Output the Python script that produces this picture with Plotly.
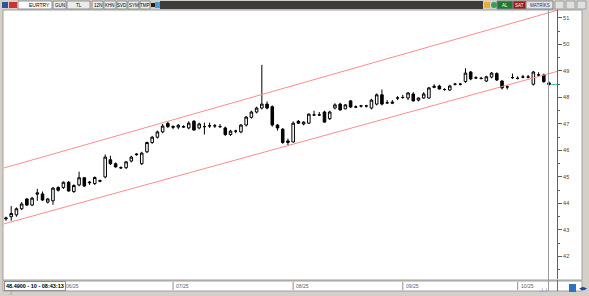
import plotly.graph_objects as go
import pandas as pd

# ---------------- data ----------------
start_date = "2025-05-16"
opens = [43.42,43.50,43.57,43.80,44.17,43.94,44.35,44.36,44.05,44.10,44.60,44.60,44.80,44.45,44.70,44.97,44.78,44.75,44.84,45.00,
         45.65,45.50,45.34,45.35,45.60,45.84,45.50,45.95,46.30,46.50,46.70,47.02,46.90,46.88,46.88,46.85,47.10,46.85,46.90,46.93,
         46.93,46.90,46.85,46.60,46.73,46.70,46.96,47.25,47.45,47.60,47.75,47.65,46.96,46.80,46.30,46.32,47.10,47.00,47.03,47.34,
         47.34,47.45,47.20,47.60,47.75,47.57,47.87,47.64,47.68,47.68,47.60,47.75,48.10,47.80,47.78,47.98,48.00,47.98,48.13,47.90,
         47.98,47.98,48.38,48.43,48.30,48.28,48.50,48.50,48.60,48.96,48.74,48.72,48.62,48.77,48.90,48.62,48.40,48.75,48.72,48.77,
         48.77,48.50,48.85,48.85,48.55]
closes = [43.45,43.62,43.80,43.98,43.94,44.20,44.40,44.13,44.17,44.58,44.50,44.80,44.47,44.68,44.97,44.66,44.80,44.98,44.86,45.75,
          45.50,45.38,45.35,45.57,45.75,45.86,45.90,46.30,46.50,46.70,46.92,46.90,46.88,46.95,46.90,47.03,46.77,47.00,46.90,46.93,
          46.93,46.90,46.60,46.73,46.73,46.96,47.26,47.45,47.60,47.75,47.60,46.96,46.85,46.30,46.36,47.03,47.03,47.07,47.37,47.34,
          47.34,47.07,47.45,47.72,47.53,47.72,47.64,47.64,47.68,47.68,47.90,48.10,47.75,47.80,47.82,47.98,48.00,48.17,47.87,47.98,
          48.13,48.36,48.42,48.32,48.30,48.43,48.50,48.50,48.92,48.70,48.74,48.72,48.78,48.92,48.66,48.36,48.40,48.75,48.72,48.77,
          48.77,48.96,48.85,48.60,48.49]
highs = [43.50,43.90,43.85,44.05,44.20,44.25,44.55,44.45,44.20,44.62,44.65,44.83,44.85,44.72,45.20,45.00,44.85,45.02,44.90,45.85,
         45.80,45.55,45.40,45.60,45.80,45.90,45.95,46.33,46.55,46.75,47.00,47.10,46.95,47.00,46.95,47.10,47.15,47.05,47.05,47.05,
         47.00,47.00,46.90,46.78,46.78,47.00,47.30,47.50,47.65,49.23,47.85,47.70,47.00,46.85,46.45,47.10,47.15,47.10,47.40,47.50,
         47.45,47.50,47.50,47.78,47.80,47.75,47.90,47.70,47.72,47.72,47.95,48.15,48.30,47.90,47.90,48.05,48.10,48.20,48.20,48.00,
         48.20,48.40,48.50,48.48,48.35,48.48,48.55,48.55,49.10,49.00,48.80,48.78,48.82,48.96,48.95,48.65,48.45,48.90,48.80,48.85,
         48.85,49.00,48.95,48.90,48.60]
lows = [43.35,43.35,43.50,43.75,43.90,43.90,44.10,44.10,44.00,43.95,44.45,44.55,44.45,44.40,44.65,44.62,44.70,44.70,44.80,44.95,
        45.45,45.35,45.30,45.30,45.55,45.80,45.45,45.90,46.25,46.45,46.65,46.85,46.80,46.80,46.85,46.80,46.75,46.80,46.60,46.85,
        46.85,46.85,46.55,46.55,46.65,46.65,46.90,47.20,47.40,47.55,47.55,46.90,46.75,46.25,46.20,46.30,47.00,46.95,47.00,47.30,
        47.30,47.05,47.15,47.55,47.50,47.55,47.60,47.60,47.62,47.62,47.55,47.70,47.70,47.75,47.75,47.90,47.95,47.90,47.85,47.85,
        47.95,47.95,48.35,48.30,48.25,48.25,48.45,48.45,48.55,48.65,48.70,48.68,48.58,48.72,48.62,48.30,48.30,48.70,48.68,48.72,
        48.72,48.45,48.80,48.55,48.45]

# channel lines: (candle index, value) anchors
channel_upper = [(0, 45.36), (104, 51.20)]
channel_lower = [(0, 43.25), (104, 48.90)]

y_ticks = [41, 42, 43, 44, 45, 46, 47, 48, 49, 50, 51]
status_text = "48.4900 - 10 - 08:43:13"
symbol = "EURTRY"

# ---------------- derived ----------------
n = len(closes)
dates = pd.bdate_range(start_date, periods=n)
xs = list(range(n))
tick_idx, tick_txt = [], []
for i in range(1, n):
    if dates[i].month != dates[i - 1].month:
        tick_idx.append(i)
        tick_txt.append(dates[i].strftime("%m/%y"))

x_range = [-0.38, 105.53]
y_range = [41.15, 51.30]

W, H = 589, 296
L, R, T, B = 4, 32, 10, 17
PW, PH = W - L - R, H - T - B


def px(p):
    return (p - L) / PW


def py(q):
    return (H - B - q) / PH


def extend(ch):
    (i0, v0), (i1, v1) = ch
    s = (v1 - v0) / (i1 - i0)
    return [v0 + s * (x_range[0] - i0), v0 + s * (x_range[1] - i0)]


fig = go.Figure()
fig.add_trace(go.Candlestick(
    x=xs, open=opens, high=highs, low=lows, close=closes,
    increasing=dict(line=dict(color="#000000", width=1), fillcolor="#ffffff"),
    decreasing=dict(line=dict(color="#000000", width=1), fillcolor="#000000"),
    whiskerwidth=0, showlegend=False, hoverinfo="skip"))
for ch in (channel_upper, channel_lower):
    fig.add_trace(go.Scatter(x=x_range, y=extend(ch), mode="lines",
                             line=dict(color="#ff8c8c", width=1),
                             showlegend=False, hoverinfo="skip"))

shapes = []
annotations = []
GRAY = "#d4d0c8"
FONT = "Liberation Sans"


def label(x, y, text, size=5, color="#000000", xanchor="center", xref="paper", **kw):
    d = dict(xref=xref, yref="paper", x=x, y=y, text=text, showarrow=False, xanchor=xanchor,
             yanchor="middle", font=dict(size=size, color=color, family=FONT))
    d.update(kw)
    annotations.append(d)


def rect(a, b, top, bot, fill, line="#909090", lw=1, kind="rect", layer="above"):
    shapes.append(dict(type=kind, xref="paper", yref="paper", x0=px(a), x1=px(b), y0=py(bot), y1=py(top),
                       fillcolor=fill, line=dict(color=line, width=lw), layer=layer))


# white chart panel + date strip
rect(3, 582, 10, 280, "white", "#a0a0a0", layer="below")
rect(3, 582, 281, 291, "white", "#a0a0a0", layer="below")
# vertical separators
shapes.append(dict(type="line", xref="paper", yref="paper", x0=px(548.5), x1=px(548.5), y0=py(291), y1=py(10),
                   line=dict(color="#9a9a9a", width=1)))
shapes.append(dict(type="line", xref="paper", yref="paper", x0=px(557.5), x1=px(557.5), y0=py(291), y1=py(280),
                   line=dict(color="#707070", width=1)))
# last price marker
shapes.append(dict(type="line", xref="x", yref="y", x0=n - 1 + 0.4, x1=x_range[1], y0=closes[-1], y1=closes[-1],
                   line=dict(color="#40c0c0", width=1)))
# toolbar
rect(160, 483, 1, 9, "#3c3c3c", lw=0)
btns = [(18, 52, symbol), (53, 66, "GUN"), (67, 90, "TL"), (92, 103, "12N"), (104, 116, "KHN"),
        (117, 127, "SVD"), (128, 139, "SYM"), (140, 150, "TMP")]
for a, b, t in btns:
    rect(a, b, 1, 9, "#ffffff" if t == symbol else "#ececec")
    if t == symbol:
        label(px(a + 9), py(5), t, xanchor="left")
    else:
        label(px((a + b) / 2), py(5), t, size=4.5)
rect(2, 8, 2, 8, "#3050a0", lw=0)
rect(9, 17, 2, 8, "#d03030", lw=0)
rect(151, 155, 3, 7, "#202020", lw=0)
rect(155, 160, 2, 8, "#40a0e0", lw=0)
rect(484, 490, 2, 8, "#e8b030", lw=0)
rect(491, 497, 2, 8, "#30a060", lw=0, kind="circle")
for a, b, col, t, tc in [(497, 513, "#1e7a2e", "AL", "#ffffff"), (513, 526, "#9a1c1c", "SAT", "#ffffff"),
                         (526, 553, "#e4e4e4", "MATRİKS", "#203080")]:
    rect(a, b, 1, 9, col, "#808080")
    label(px((a + b) / 2), py(5), t, size=4.5, color=tc)
for a in (555, 566, 577):
    rect(a, a + 9, 1, 9, "#e0e0e0", "#a0a0a0")
# bottom right icons
rect(569, 576, 284, 292, "#3070c0", lw=0)
label(px(577), py(288), "◀▶", size=5, color="#1a3a8a", xanchor="left")
label(px(537), py(290), "..l..l", size=5, color="#808080", xanchor="left")
label(px(6), py(293), "..l", size=5, color="#808080", xanchor="left")
# month ticks
for i, t in zip(tick_idx, tick_txt):
    shapes.append(dict(type="line", xref="x", yref="paper", x0=i, x1=i, y0=py(290), y1=py(282),
                       line=dict(color="#909090", width=1)))
    label(i, py(286), t, size=5, color="#606060", xanchor="left", xref="x", xshift=1)
# status box
label(px(4), py(286), "<b>" + status_text + "</b>", size=5.5, xanchor="left",
      bgcolor="#ffffff", bordercolor="#909090", borderwidth=1, borderpad=1)

fig.update_layout(
    width=W, height=H, margin=dict(l=L, r=R, t=T, b=B),
    paper_bgcolor=GRAY, plot_bgcolor="rgba(0,0,0,0)",
    shapes=shapes, annotations=annotations, showlegend=False,
    xaxis=dict(range=x_range, showgrid=False, zeroline=False, showticklabels=False, ticks="",
               rangeslider=dict(visible=False), fixedrange=True),
    yaxis=dict(range=y_range, side="right", showgrid=False, zeroline=False, showline=True,
               linecolor="#606060", linewidth=1, ticks="outside", ticklen=4, tickcolor="#606060",
               tickvals=y_ticks, ticktext=[str(v) for v in y_ticks],
               tickfont=dict(size=5.5, color="#404040", family=FONT),
               minor=dict(ticks="outside", ticklen=2, dtick=0.5, tickcolor="#606060"),
               fixedrange=True),
)
fig.write_html("out.html")
